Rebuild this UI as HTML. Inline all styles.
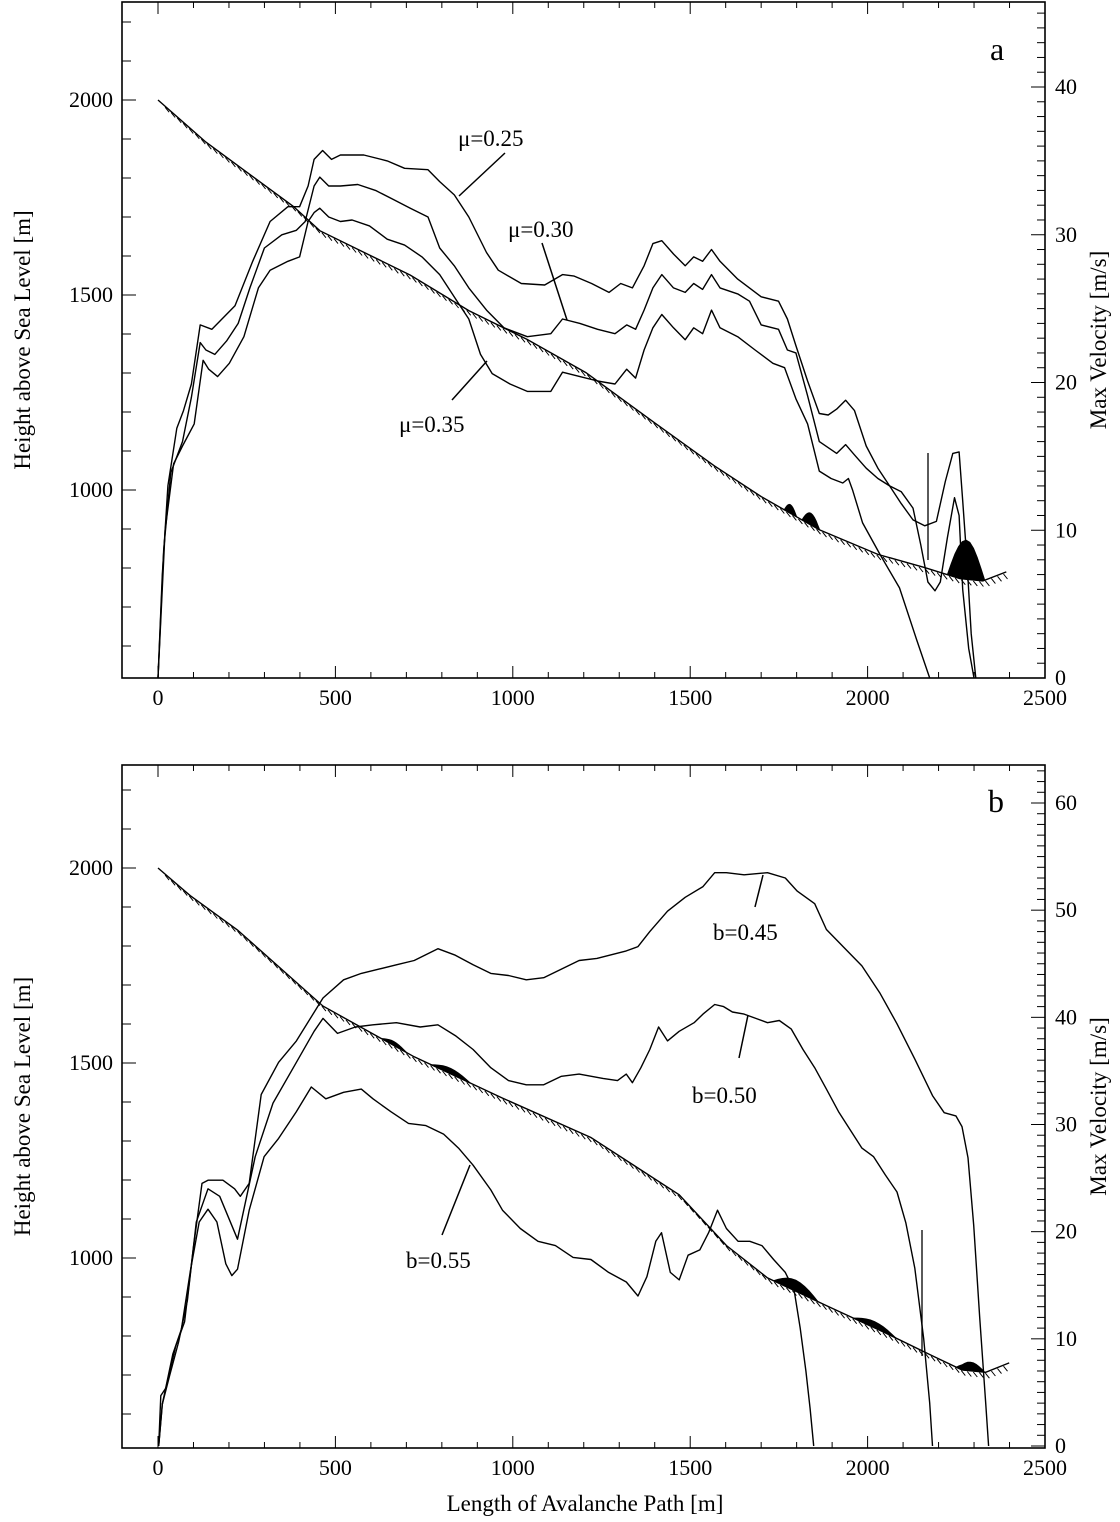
<!DOCTYPE html>
<html><head><meta charset="utf-8">
<style>
html,body{margin:0;padding:0;background:#fff;}
svg{display:block;font-family:"Liberation Serif",serif;}
</style></head>
<body>
<svg id="fig" width="1120" height="1522" viewBox="0 0 1120 1522" xmlns="http://www.w3.org/2000/svg">
<text x="585" y="1511" font-size="23" text-anchor="middle">Length of Avalanche Path [m]</text>
</svg>
<script>
// ---------- data: panel a ----------
const terrainAX = [0,135,382,456,711,876,1041,1206,1403,1568,1700,1864,2029,2161,2260,2325,2391];
const terrainAH = [2000,1892,1727,1665,1551,1460,1386,1301,1170,1062,983,898,835,801,773,767,790];
const mu25X = [0,12,28,53,72,94,119,152,217,267,316,366,399,423,440,464,489,514,580,646,695,761,794,835,876,926,959,1024,1090,1140,1173,1222,1271,1304,1337,1370,1395,1420,1453,1486,1510,1535,1560,1584,1634,1700,1749,1774,1798,1831,1864,1889,1913,1938,1963,1996,2029,2062,2095,2128,2161,2194,2219,2240,2258,2268,2280,2292,2305];
const mu25V = [0,7.0,13.0,16.9,18.1,19.9,23.9,23.6,25.2,28.2,30.9,31.9,31.9,33.3,35.1,35.7,35.1,35.4,35.4,35.0,34.5,34.4,33.6,32.7,31.2,28.8,27.6,26.7,26.6,27.3,27.2,26.7,26.1,26.7,26.4,27.9,29.4,29.6,28.7,27.9,28.5,28.2,29.0,28.2,27.0,25.8,25.5,24.3,22.5,20.1,17.9,17.8,18.2,18.8,18.1,15.7,14.2,13.0,11.8,10.7,10.3,10.6,13.3,15.2,15.3,12.0,8.0,3.0,0];
const mu30X = [0,16,36,69,94,119,135,160,193,226,259,300,349,390,415,440,456,481,514,563,613,662,711,761,794,835,876,926,975,1041,1107,1140,1189,1239,1288,1321,1346,1370,1395,1420,1453,1486,1510,1535,1560,1584,1634,1667,1700,1749,1774,1798,1831,1864,1913,1938,1963,1996,2029,2062,2095,2128,2150,2170,2190,2205,2225,2245,2258,2268,2285,2300];
const mu30V = [0,8.7,13.9,16.0,19.0,22.7,22.2,21.9,22.8,24.0,26.4,29.1,30.0,30.3,30.9,33.3,33.9,33.3,33.3,33.4,33.0,32.4,31.8,31.2,29.1,27.9,26.4,24.9,23.7,23.1,23.3,24.3,24.0,23.6,23.3,23.9,23.6,24.9,26.4,27.3,26.4,26.1,26.7,26.3,27.3,26.4,26.0,25.5,23.9,23.6,22.2,22.0,19.1,16.0,15.2,15.8,15.1,14.2,13.5,13.0,12.6,11.5,9.0,6.5,5.9,6.5,9.5,12.2,11.0,6.0,2.0,0];
const mu35X = [0,20,44,69,102,127,143,168,201,242,283,316,366,399,423,440,456,481,514,547,596,646,695,744,794,843,876,909,942,992,1041,1107,1140,1189,1239,1288,1321,1346,1370,1395,1420,1453,1486,1510,1535,1560,1584,1634,1683,1733,1766,1798,1831,1864,1897,1930,1946,1958,1986,2034,2090,2138,2175];
const mu35V = [0,10.0,14.5,15.7,17.2,21.5,20.9,20.4,21.3,23.1,26.4,27.6,28.2,28.5,30.9,31.5,31.8,31.2,30.9,31.0,30.6,29.7,29.3,28.5,27.3,25.5,24.3,21.9,20.6,19.9,19.4,19.4,20.7,20.4,20.1,19.9,20.9,20.3,22.2,23.7,24.6,23.7,22.9,23.7,23.3,24.9,23.7,23.1,22.2,21.3,21.0,18.9,17.2,14.0,13.5,13.2,13.5,12.7,10.5,8.4,6.1,2.6,0];
// ---------- data: panel b ----------
const terrainBX = [0,91,224,465,722,971,1220,1469,1602,1718,1884,2050,2183,2266,2333,2399];
const terrainBH = [2000,1929,1841,1646,1516,1410,1309,1162,1032,949,878,808,749,713,707,731];
const b45X = [2,8,22,50,75,100,124,141,183,216,232,257,291,340,390,465,523,573,623,672,722,789,838,888,938,988,1038,1087,1137,1187,1237,1320,1353,1386,1436,1486,1536,1569,1602,1652,1718,1768,1801,1851,1884,1934,1984,2034,2083,2133,2183,2216,2249,2266,2283,2299,2316,2333,2341];
const b45V = [0,4.7,5.4,9.3,11.6,18.6,24.5,24.8,24.8,24.0,23.3,24.5,32.8,35.8,37.8,41.8,43.5,44.1,44.5,44.9,45.3,46.4,45.8,44.9,44.1,43.9,43.5,43.7,44.5,45.3,45.5,46.2,46.6,48.0,49.9,51.2,52.2,53.5,53.5,53.3,53.5,53.0,51.8,50.6,48.2,46.5,44.8,42.3,39.4,36.1,32.7,31.1,30.8,29.8,26.9,20.6,12.0,4.0,0];
const b50X = [2,12,33,58,83,108,141,174,224,274,324,390,440,465,506,556,606,672,739,789,838,888,938,988,1038,1087,1137,1187,1254,1295,1320,1337,1361,1386,1411,1436,1469,1511,1536,1569,1594,1619,1652,1685,1718,1751,1785,1818,1851,1884,1918,1951,1984,2017,2050,2083,2108,2133,2158,2175,2183];
const b50V = [0,3.9,6.6,9.7,13.6,20.9,24.0,23.3,19.3,27.0,32.0,35.8,38.7,39.9,38.5,39.1,39.3,39.5,39.1,39.3,38.3,37.0,35.3,34.1,33.7,33.7,34.5,34.7,34.3,34.1,34.7,33.9,35.3,37.0,39.1,37.8,38.7,39.5,40.3,41.2,41.0,40.5,40.3,39.9,39.5,39.7,38.9,37.0,35.3,33.3,31.2,29.5,27.8,27.0,25.3,23.7,20.8,16.6,10.0,4.0,0];
const b55X = [2,12,42,66,91,116,141,166,191,208,224,257,299,340,390,432,473,523,573,606,656,706,755,805,847,888,938,971,1021,1071,1120,1170,1220,1270,1320,1353,1378,1403,1419,1444,1469,1494,1527,1552,1577,1602,1635,1668,1702,1735,1768,1793,1810,1826,1838,1848];
const b55V = [0,3.9,8.6,10.9,16.3,20.9,22.1,20.9,17.0,15.9,16.5,22.0,27.0,28.7,31.2,33.5,32.4,33.0,33.3,32.4,31.2,30.1,29.9,29.1,27.8,26.2,23.9,22.0,20.3,19.1,18.7,17.6,17.4,16.2,15.3,14.0,15.8,19.1,19.9,16.2,15.5,17.8,18.3,19.9,22.0,20.3,19.1,19.1,18.7,17.4,16.2,14.5,11.0,7.0,3.5,0];
// deposit blobs: [start m, end m, thickness m]
const blobsA = [[1765,1800,22],[1815,1865,30],[2225,2330,100]];
const blobsB = [[630,700,10],[770,880,14],[1735,1860,28],[1960,2080,16],[2250,2330,22]];
// tick labels
const xTicks = [0,500,1000,1500,2000,2500];
const hTicks = [1000,1500,2000];
const vTicksA = [0,10,20,30,40];
const vTicksB = [0,10,20,30,40,50,60];

const NS = 'http://www.w3.org/2000/svg';
const svg = document.getElementById('fig');
function mk(tag, attrs, parent){
  const e = document.createElementNS(NS, tag);
  for (const k in attrs) e.setAttribute(k, attrs[k]);
  (parent||svg).appendChild(e);
  return e;
}
function interp(xs, ys, x){
  if (x <= xs[0]) return ys[0];
  for (let i=1;i<xs.length;i++){ if (x <= xs[i]) { const t=(x-xs[i-1])/(xs[i]-xs[i-1]); return ys[i-1]+t*(ys[i]-ys[i-1]); } }
  return ys[ys.length-1];
}

function panel(cfg){
  const g = mk('g', {});
  
  
  const L=122, R=1045, T=cfg.top, B=cfg.bottom;
  const sx = m => 158 + m*(1045-158)/2500;
  const sh = h => cfg.h2000 + (2000-h)*0.39;
  const sv = v => cfg.v0 + (cfg.vMaxPx - cfg.v0)*v/cfg.vMax;
  const fr = mk('rect', {x:L, y:T, width:R-L, height:B-T, fill:'none', stroke:'#000', 'stroke-width':1.6}, g);
  
  
  for (let m=0;m<=2500;m+=100){
    const major = m%500===0, len = major?12:6;
    mk('line',{x1:sx(m),y1:B,x2:sx(m),y2:B-len,stroke:'#000','stroke-width':1},g);
    mk('line',{x1:sx(m),y1:T,x2:sx(m),y2:T+len,stroke:'#000','stroke-width':1},g);
  }
  xTicks.forEach(m=>{
    const t = mk('text',{x:sx(m),y:B+27,'font-size':22,'text-anchor':'middle'},g);
    t.textContent = m;
    
    
  });
  for (let h=600; h<=2200; h+=100){
    const y = sh(h); if (y<T||y>B) continue;
    const major = h%500===0;
    mk('line',{x1:L,y1:y,x2:L+(major?14:9),y2:y,stroke:'#000','stroke-width':1},g);
  }
  hTicks.forEach(h=>{
    const t = mk('text',{x:113,y:sh(h)+7,'font-size':22,'text-anchor':'end'},g);
    t.textContent = h;
    
    
  });
  for (let v=0; v<=cfg.vMax+6; v+=cfg.vMinor){
    const y = sv(v); if (y<T||y>B) continue;
    const major = v%10===0;
    mk('line',{x1:R,y1:y,x2:R-(major?14:8),y2:y,stroke:'#000','stroke-width':1},g);
  }
  cfg.vTicks.forEach(v=>{
    const t = mk('text',{x:1055,y:sv(v)+7,'font-size':22},g);
    t.textContent = v;
    
    
  });
  const cy = (T+B)/2;
  const lt = mk('text',{x:0,y:0,'font-size':23,'text-anchor':'middle',transform:`translate(30,${cy}) rotate(-90)`},g);
  lt.textContent = 'Height above Sea Level [m]';
  
  
  const rt = mk('text',{x:0,y:0,'font-size':23,'text-anchor':'middle',transform:`translate(1106,${cy}) rotate(-90)`},g);
  rt.textContent = 'Max Velocity [m/s]';
  
  
  const pl = mk('text',{x:cfg.letterX,y:cfg.letterY,'font-size':32},g);
  pl.textContent = cfg.letter;
  
  
  const tx = cfg.tX, th = cfg.tH;
  let d = tx.map((m,i)=>(i?'L':'M')+sx(m).toFixed(1)+','+sh(th[i]).toFixed(1)).join(' ');
  const tp = mk('path',{d:d,fill:'none',stroke:'#000','stroke-width':1.4},g);
  
  
  let hd='';
  for (let m=20; m<tx[tx.length-1]; m+=17){
    const x=sx(m), y=sh(interp(tx,th,m));
    hd += `M${x.toFixed(1)},${(y+1).toFixed(1)} l4,5 `;
  }
  const hp = mk('path',{d:hd,fill:'none',stroke:'#000','stroke-width':1},g);
  
  
  cfg.blobs.forEach(bl=>{
    const [m0,m1,thk]=bl; let pts=[];
    for (let k=0;k<=10;k++){ const m=m0+(m1-m0)*k/10; pts.push([sx(m), sh(interp(tx,th,m))]); }
    for (let k=10;k>=0;k--){ const m=m0+(m1-m0)*k/10; const f=Math.sin(Math.PI*k/10); pts.push([sx(m), sh(interp(tx,th,m)+thk*f)]); }
    const bp = mk('path',{d:'M'+pts.map(p=>p[0].toFixed(1)+','+p[1].toFixed(1)).join(' L')+'Z',fill:'#000',stroke:'#000','stroke-width':1},g);
    
    
  });
  cfg.series.forEach(s=>{
    const dd = s.x.map((m,i)=>(i?'L':'M')+sx(m).toFixed(1)+','+sv(s.v[i]).toFixed(1)).join(' ');
    const p = mk('path',{d:dd,fill:'none',stroke:'#000','stroke-width':1.4,'stroke-linejoin':'round'},g);
    
    
  });
  cfg.notes.forEach(n=>{
    const ln = mk('line',{x1:n.lx1,y1:n.ly1,x2:n.lx2,y2:n.ly2,stroke:'#000','stroke-width':1.5},g);
    
    
    const t = mk('text',{x:n.tx,y:n.ty,'font-size':23},g);
    t.textContent = n.text;
    
    
  });
  const ar = mk('line',{x1:cfg.arrowX,y1:cfg.arrowY1,x2:cfg.arrowX,y2:cfg.arrowY2,stroke:'#000','stroke-width':1.3},g);
  
  
}

panel({name:'panel-a', top:2, bottom:678, h2000:100, v0:678, vMaxPx:87, vMax:40, vMinor:1, vTicks:vTicksA,
  letter:'a', letterX:990, letterY:60, tX:terrainAX, tH:terrainAH, blobs:blobsA,
  series:[{name:'line-mu-0.25',x:mu25X,v:mu25V},{name:'line-mu-0.30',x:mu30X,v:mu30V},{name:'line-mu-0.35',x:mu35X,v:mu35V}],
  notes:[{text:'μ=0.25',tx:458,ty:146,lx1:505,ly1:153,lx2:459,ly2:196},
         {text:'μ=0.30',tx:508,ty:237,lx1:542,ly1:243,lx2:567,ly2:320},
         {text:'μ=0.35',tx:399,ty:432,lx1:452,ly1:400,lx2:487,ly2:361}],
  arrowX:928, arrowY1:453, arrowY2:560});

panel({name:'panel-b', top:765, bottom:1448, h2000:868, v0:1446, vMaxPx:803, vMax:60, vMinor:1, vTicks:vTicksB,
  letter:'b', letterX:988, letterY:812, tX:terrainBX, tH:terrainBH, blobs:blobsB,
  series:[{name:'line-b-0.45',x:b45X,v:b45V},{name:'line-b-0.50',x:b50X,v:b50V},{name:'line-b-0.55',x:b55X,v:b55V}],
  notes:[{text:'b=0.45',tx:713,ty:940,lx1:755,ly1:907,lx2:763,ly2:875},
         {text:'b=0.50',tx:692,ty:1103,lx1:739,ly1:1058,lx2:748,ly2:1015},
         {text:'b=0.55',tx:406,ty:1268,lx1:442,ly1:1235,lx2:470,ly2:1165}],
  arrowX:922, arrowY1:1230, arrowY2:1356});
</script>
</body></html>
